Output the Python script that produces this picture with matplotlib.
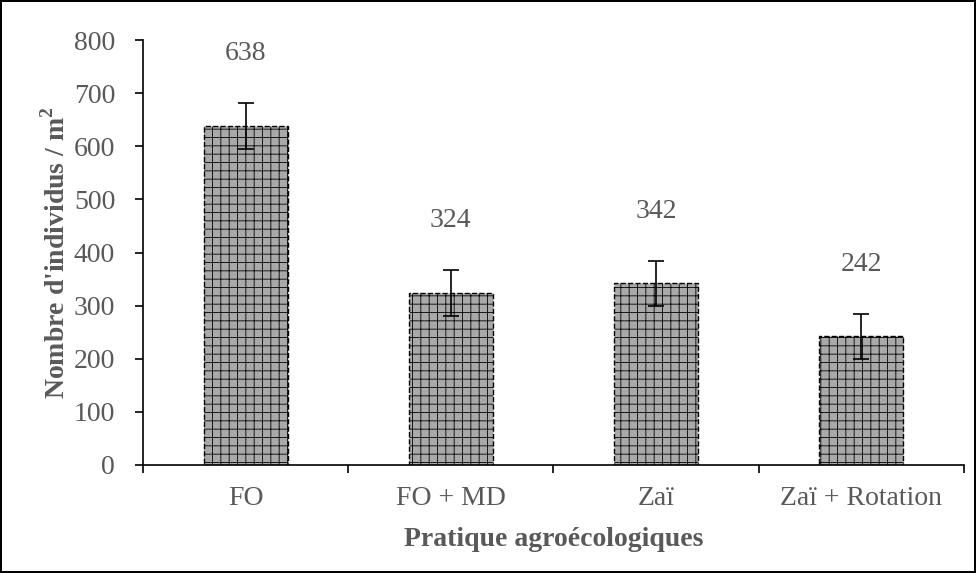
import numpy as np
import matplotlib
matplotlib.use('Agg')
import matplotlib.pyplot as plt

categories = ['FO', 'FO + MD', 'Zaï', 'Zaï + Rotation']
values = [638, 324, 342, 242]
errors = [43, 43, 43, 43]
yticks = [0, 100, 200, 300, 400, 500, 600, 700, 800]

plt.rcParams['font.family'] = ['Liberation Serif', 'DejaVu Serif']
plt.rcParams['mathtext.fontset'] = 'custom'
plt.rcParams['mathtext.rm'] = 'Liberation Serif'
plt.rcParams['mathtext.bf'] = 'Liberation Serif:bold'
plt.rcParams['hatch.color'] = '#858585'
plt.rcParams['hatch.linewidth'] = 0.6
txt = '#595959'

fig = plt.figure(figsize=(9.76, 5.73), dpi=100)
fig.patch.set_edgecolor('black')
fig.patch.set_linewidth(1.5)
ax = fig.add_axes([0.1465, 0.1885, 0.841, 0.7415])

x = np.arange(len(categories))
ax.bar(x, values, width=0.41, color='#a9a9a9', edgecolor='black',
       linestyle='--', linewidth=1.0, hatch='++')
ax.errorbar(x, values, yerr=errors, fmt='none', ecolor='black',
            elinewidth=1.2, capsize=6, capthick=1.2)
for xi, v in zip(x, values):
    ax.annotate(str(v), (xi, v), xytext=(0, 52), textcoords='offset points',
                ha='center', va='center', fontsize=20, color=txt)

ax.set_xlim(-0.5, len(categories) - 0.5)
ax.set_ylim(0, 800)
ax.set_yticks(yticks)
ax.set_xticks(x)
ax.set_xticklabels(categories)
ax.set_xticks(np.arange(len(categories) + 1) - 0.5, minor=True)
ax.tick_params(axis='x', which='major', length=0, pad=15, labelsize=20, labelcolor=txt)
ax.tick_params(axis='x', which='minor', length=6, width=1.2, direction='out')
ax.tick_params(axis='y', length=6, width=1.2, pad=14, labelsize=20, labelcolor=txt)
for s in ['top', 'right']:
    ax.spines[s].set_visible(False)
for s in ['left', 'bottom']:
    ax.spines[s].set_linewidth(1.2)

ax.set_xlabel('Pratique agroécologiques', fontsize=20, fontweight='bold',
              color=txt, labelpad=12)
ax.set_ylabel(r"Nombre d'individus / $\mathbf{m}^{\mathbf{2}}$", fontsize=20,
              fontweight='bold', color=txt, labelpad=2)

fig.savefig('out.png', dpi=100, edgecolor=fig.get_edgecolor())
